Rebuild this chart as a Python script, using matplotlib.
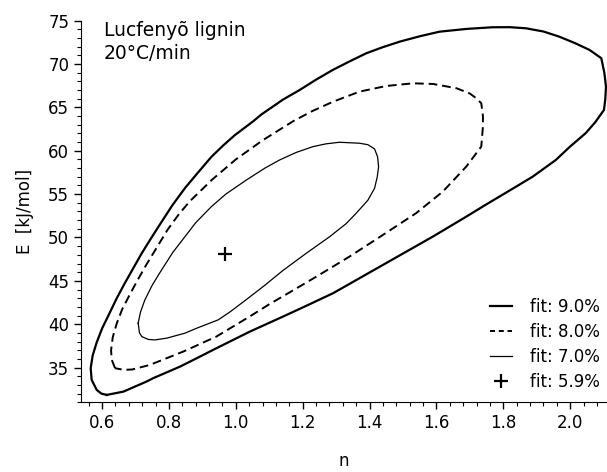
import matplotlib
matplotlib.use("Agg")
import matplotlib.pyplot as plt
from matplotlib.ticker import MultipleLocator, FormatStrFormatter
from matplotlib.lines import Line2D

plt.rcParams['font.family'] = ['DejaVu Sans']
plt.rcParams['font.size'] = 12

# Contour of fit = 9.0 %
n_fit90 = [0.614, 0.598, 0.584, 0.569, 0.566, 0.572, 0.584, 0.600, 0.619, 0.644,
           0.669, 0.694, 0.719, 0.748, 0.778, 0.810, 0.848, 0.885, 0.927, 0.962,
           0.997, 1.052, 1.077, 1.141, 1.191, 1.240, 1.290, 1.340, 1.390, 1.440,
           1.490, 1.550, 1.609, 1.690, 1.768, 1.820, 1.868, 1.920, 1.967, 2.015,
           2.058, 2.093, 2.102, 2.107, 2.105, 2.101, 2.075, 2.046, 2.000, 1.957,
           1.888, 1.838, 1.738, 1.689, 1.589, 1.440, 1.291, 1.215, 1.141, 1.042,
           0.932, 0.893, 0.833, 0.753, 0.733, 0.664, 0.614]
E_fit90 = [31.85, 32.00, 32.43, 33.58, 34.93, 36.40, 37.90, 39.50, 41.00, 43.00,
           44.80, 46.50, 48.20, 50.00, 51.80, 53.70, 55.70, 57.40, 59.30, 60.60,
           61.80, 63.40, 64.20, 65.90, 67.01, 68.20, 69.32, 70.30, 71.24, 71.95,
           72.58, 73.20, 73.73, 74.05, 74.24, 74.25, 74.12, 73.75, 73.16, 72.40,
           71.62, 70.67, 69.00, 67.39, 66.00, 64.71, 63.30, 62.02, 60.50, 58.94,
           57.02, 55.86, 53.56, 52.40, 50.10, 46.84, 43.58, 42.20, 40.88, 39.15,
           37.04, 36.27, 35.11, 33.78, 33.39, 32.23, 31.85]

# Contour of fit = 8.0 %
n_fit80 = [0.639, 0.629, 0.627, 0.632, 0.644, 0.660, 0.680, 0.705, 0.733, 0.763,
           0.796, 0.830, 0.863, 0.930, 1.000, 1.040, 1.080, 1.171, 1.230, 1.291,
           1.370, 1.450, 1.530, 1.590, 1.660, 1.700, 1.719, 1.734, 1.739, 1.739,
           1.734, 1.719, 1.689, 1.619, 1.539, 1.440, 1.340, 1.241, 1.171, 1.100,
           1.042, 0.942, 0.843, 0.743, 0.690, 0.665, 0.639]
E_fit80 = [34.93, 35.90, 37.00, 38.50, 40.10, 41.70, 43.20, 45.00, 46.90, 48.80,
           50.90, 52.70, 54.20, 56.70, 59.00, 60.10, 61.20, 63.40, 64.60, 65.66,
           66.82, 67.47, 67.78, 67.70, 67.21, 66.60, 66.05, 65.48, 64.00, 62.78,
           60.48, 59.71, 58.17, 55.29, 52.80, 50.30, 47.80, 45.49, 43.90, 42.30,
           40.90, 38.58, 36.85, 35.31, 34.78, 34.74, 34.93]

# Contour of fit = 7.0 %
n_fit70 = [0.708, 0.712, 0.719, 0.738, 0.758, 0.793, 0.848, 0.883, 0.947, 0.982,
           1.030, 1.087, 1.141, 1.211, 1.281, 1.330, 1.360, 1.395, 1.415, 1.423,
           1.427, 1.424, 1.415, 1.395, 1.370, 1.310, 1.270, 1.231, 1.180, 1.131,
           1.087, 1.032, 0.970, 0.927, 0.880, 0.848, 0.812, 0.778, 0.750, 0.728,
           0.715, 0.708]
E_fit70 = [40.12, 39.00, 38.57, 38.25, 38.19, 38.39, 38.97, 39.54, 40.50, 41.40,
           42.80, 44.50, 46.20, 48.19, 50.10, 51.60, 52.80, 54.30, 55.68, 57.00,
           58.17, 59.30, 60.21, 60.70, 60.87, 60.98, 60.80, 60.48, 59.80, 58.94,
           58.00, 56.64, 55.00, 53.56, 51.70, 50.10, 48.30, 46.26, 44.50, 42.80,
           41.40, 40.12]

# Best fit point (fit = 5.9 %)
n_best = [0.967]
E_best = [48.1]

labels = ['fit: 9.0%', 'fit: 8.0%', 'fit: 7.0%', 'fit: 5.9%']
annotation = 'Lucfenyõ lignin\n20°C/min'

fig = plt.figure(figsize=(6.07, 4.72), dpi=100)
ax = fig.add_axes([0.1334, 0.1477, 0.8666, 0.8085])

ax.plot(n_fit90, E_fit90, color='black', lw=1.6)
ax.plot(n_fit80, E_fit80, color='black', lw=1.4, dashes=(4.5, 2.5))
ax.plot(n_fit70, E_fit70, color='black', lw=0.9)
ax.plot(n_best, E_best, ls='none', marker='+', ms=10, mew=1.6, color='black')

ax.set_xlim(0.537, 2.11)
ax.set_ylim(31.0, 75.0)
ax.xaxis.set_major_locator(MultipleLocator(0.2))
ax.xaxis.set_minor_locator(MultipleLocator(0.04))
ax.yaxis.set_major_locator(MultipleLocator(5))
ax.yaxis.set_minor_locator(MultipleLocator(1))
ax.xaxis.set_major_formatter(FormatStrFormatter('%.1f'))

for s in ['top', 'right']:
    ax.spines[s].set_visible(False)
ax.tick_params(which='major', direction='out', length=5, width=1, labelsize=12)
ax.tick_params(which='minor', direction='out', length=3, width=0.8)

ax.set_xlabel('n', fontsize=12, labelpad=14)
ax.set_ylabel('E  [kJ/mol]', fontsize=12, labelpad=10)

ax.text(0.0437, 0.999, annotation, transform=ax.transAxes, ha='left', va='top',
        fontsize=13.5, linespacing=1.23)

handles = [
    Line2D([], [], color='black', lw=1.6),
    Line2D([], [], color='black', lw=1.4, dashes=(2.6, 1.9)),
    Line2D([], [], color='black', lw=0.9),
    Line2D([], [], ls='none', marker='+', ms=10, mew=1.6, color='black'),
]
ax.legend(handles, labels, loc='lower right', bbox_to_anchor=(1.0, 0.013),
          frameon=False, handlelength=1.3, handletextpad=1.1, labelspacing=0.41,
          borderaxespad=0.0, fontsize=12)

fig.savefig('out.png', dpi=100)
